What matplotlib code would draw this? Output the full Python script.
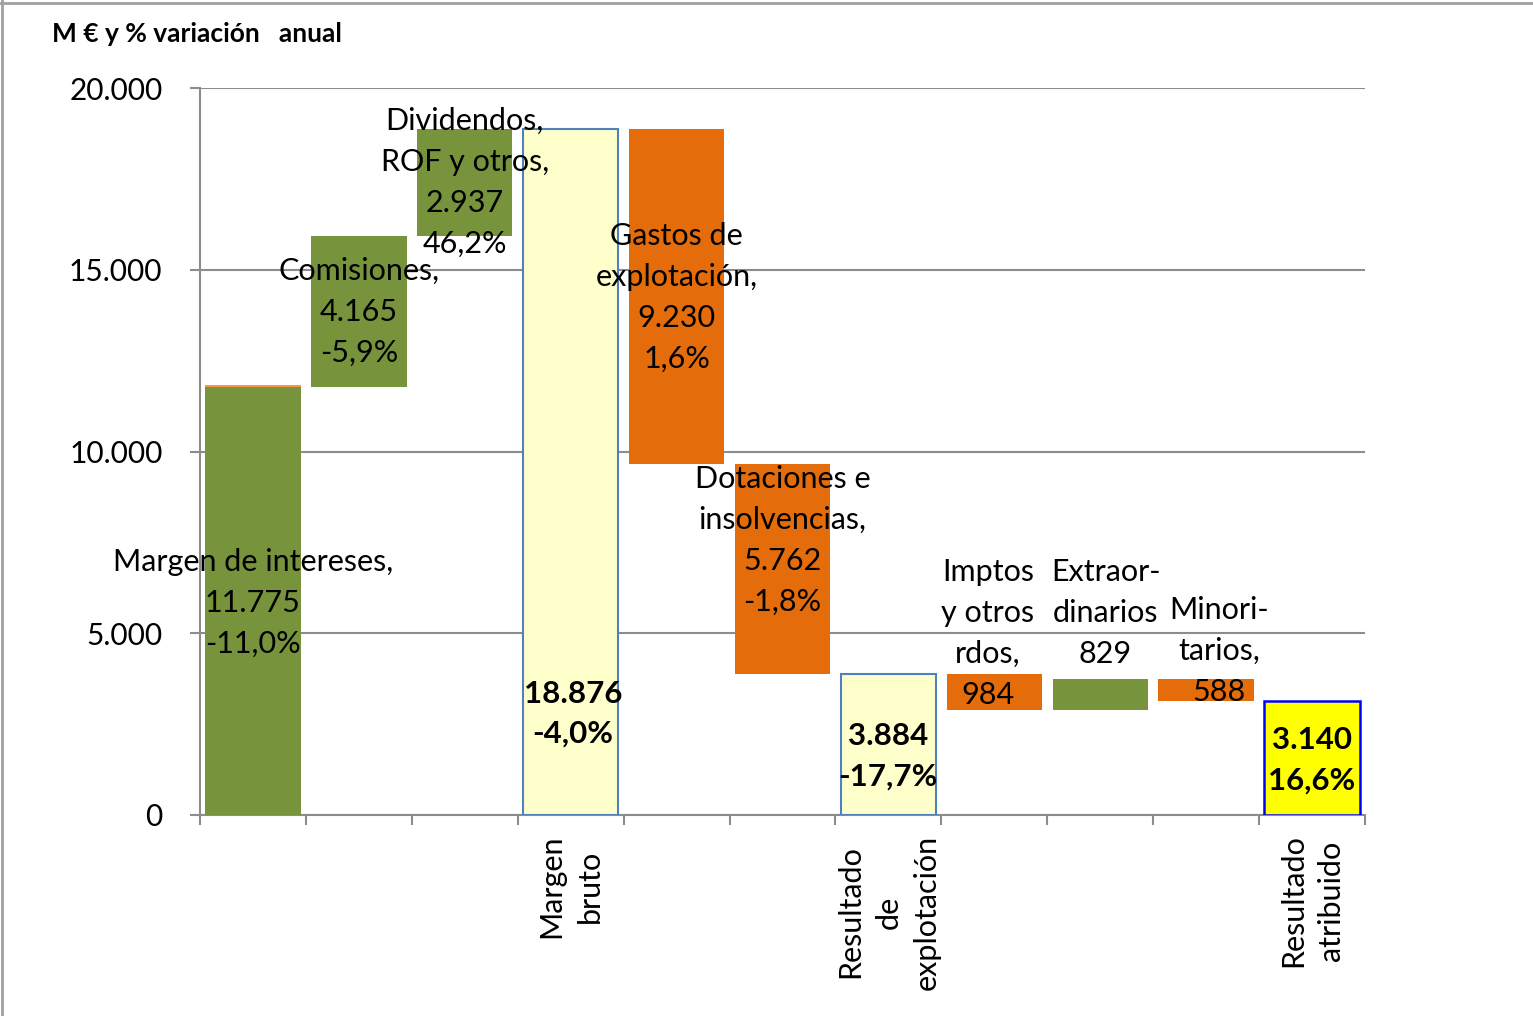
import matplotlib
matplotlib.use("Agg")
import matplotlib.pyplot as plt
from matplotlib.lines import Line2D

plt.rcParams['font.family'] = ['Lato', 'DejaVu Sans']

# ---- data (M EUR) ----
names = ['Margen de intereses', 'Comisiones', 'Dividendos, ROF y otros', 'Margen bruto',
         'Gastos de explotación', 'Dotaciones e insolvencias', 'Resultado de explotación',
         'Imptos y otros rdos', 'Extraordinarios', 'Minoritarios', 'Resultado atribuido']
values = [11775, 4165, 2937, 18876, -9230, -5762, 3884, -984, 829, -588, 3140]
kinds = ['step', 'step', 'step', 'total', 'step', 'step', 'total', 'step', 'step', 'step', 'final']
changes = ['-11,0%', '-5,9%', '46,2%', '-4,0%', '1,6%', '-1,8%', '-17,7%', '', '', '', '16,6%']
label_names = ['Margen de intereses,', 'Comisiones,', 'Dividendos,\nROF y otros,', '',
               'Gastos de\nexplotación,', 'Dotaciones e\ninsolvencias,', '',
               'Imptos\ny otros\nrdos,', 'Extraor-\ndinarios', 'Minori-\ntarios,', '']
tick_labels = ['', '', '', 'Margen\nbruto', '', '', 'Resultado\nde\nexplotación',
               '', '', '', 'Resultado\natribuido']
first_cap = 60  # thin orange rim on top of the first bar

# ---- layout ----
label_y = [5830, 13840, 17400, 2780, 14240, 7560, 1620, 5000, 5560, 4510, 1510]
label_dx = [0, 0, 0, 0.02, 0, 0, 0, -0.06, 0.05, 0.12, 0]
LINE_STEP = 29.5  # points between label lines

GREEN = '#77933C'
ORANGE = '#E46C0A'
PALE = '#FFFFCC'
PALE_EDGE = '#4F81BD'
YELLOW = '#FFFF00'
GRID = '#8C8C8C'

fig = plt.figure(figsize=(15.33, 10.16), dpi=100)
ax = fig.add_axes([200 / 1533, 1 - 815 / 1016, 1165 / 1533, 727 / 1016])

level = 0
for i, (v, k) in enumerate(zip(values, kinds)):
    if k == 'step':
        bottom = level if v >= 0 else level + v
        color = GREEN if v >= 0 else ORANGE
        ax.bar(i, abs(v), bottom=bottom, width=0.9, color=color, zorder=3)
        level += v
    elif k == 'total':
        ax.bar(i, v, width=0.9, color=PALE, edgecolor=PALE_EDGE, linewidth=1.5, zorder=3)
        level = v
    else:
        ax.bar(i, v, width=0.9, color=YELLOW, edgecolor='#0000FF', linewidth=1.8, zorder=3)
        level = v
    if i == 0:
        ax.bar(i, first_cap, bottom=v, width=0.9, color='#F79646', zorder=3)

# data labels, one text per line so each line keeps its own extent
for i, v in enumerate(values):
    num = f"{abs(v):,}".replace(',', '.')
    lines = []
    if label_names[i]:
        lines += label_names[i].split('\n')
    lines.append(num)
    if changes[i]:
        lines.append(changes[i])
    bold = kinds[i] != 'step'
    step = LINE_STEP if not bold else 29
    n = len(lines)
    for j, line in enumerate(lines):
        off = ((n - 1) / 2 - j) * step
        ax.annotate(line, (i + label_dx[i], label_y[i]), xytext=(0, off),
                    textcoords='offset points', ha='center', va='center',
                    fontsize=22 if not bold else 22.5,
                    fontweight='bold' if bold else 'normal', zorder=5, color='black')

ax.set_xlim(-0.5, len(values) - 0.5)
ax.set_ylim(0, 20000)
ax.set_yticks([0, 5000, 10000, 15000, 20000])
ax.set_yticklabels([f"{t:,}".replace(',', '.') for t in [0, 5000, 10000, 15000, 20000]])
ax.yaxis.grid(True, color=GRID, linewidth=1.5, zorder=0)
ax.set_axisbelow(True)

ax.set_xticks(range(len(values)))
ax.set_xticklabels(tick_labels, rotation=90, ha='center', va='top',
                   multialignment='center', fontsize=22, linespacing=1.45)
ax.set_xticks([x - 0.5 for x in range(len(values) + 1)], minor=True)
ax.tick_params(axis='x', which='major', length=0, pad=14)
ax.tick_params(axis='x', which='minor', length=7, width=1.5, color=GRID, direction='out')
ax.tick_params(axis='y', length=7, width=1.5, color=GRID, direction='out', labelsize=21.5, pad=20)

for s in ('top', 'right'):
    ax.spines[s].set_visible(False)
for s in ('left', 'bottom'):
    ax.spines[s].set_color(GRID)
    ax.spines[s].set_linewidth(1.5)

fig.text(52 / 1533, 1 - 34 / 1016, 'M € y % variación   anual', fontsize=19,
         fontweight='bold', va='center', ha='left')

# outer frame
fig.add_artist(Line2D([0, 1], [1 - 2.5 / 1016, 1 - 2.5 / 1016], transform=fig.transFigure,
                      color='#A0A0A0', linewidth=2))
fig.add_artist(Line2D([2 / 1533, 2 / 1533], [0, 1], transform=fig.transFigure,
                      color='#A0A0A0', linewidth=2))

fig.savefig('out.png', dpi=100)
